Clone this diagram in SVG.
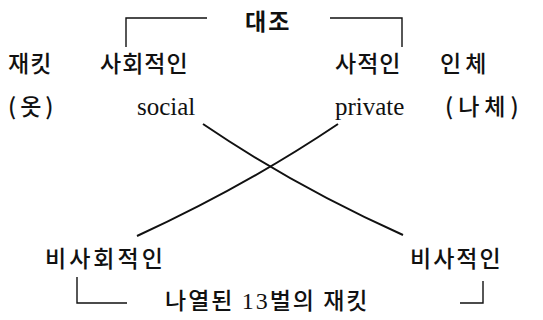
<svg xmlns="http://www.w3.org/2000/svg" width="543" height="320" viewBox="0 0 543 320">
<style>
.ko{font-family:"Noto Sans CJK KR","Noto Sans",sans-serif;font-size:23px;font-weight:500;fill:#111;}
.ko.b{font-weight:bold;}
.en{font-family:"Liberation Serif",serif;font-size:25px;font-weight:normal;fill:#111;}
.br{fill:none;stroke:#111;stroke-width:1.4;}
.cr{fill:none;stroke:#111;stroke-width:2;}
</style>
<rect width="543" height="320" fill="#fff"/>
<g id="contrast"><text class="ko b" x="245" y="30" letter-spacing="2">대조</text></g>
<g id="jacket"><text class="ko" x="8" y="72" letter-spacing="1">재킷</text><text class="ko" x="8" y="115" letter-spacing="4">(옷)</text></g>
<g id="social"><text class="ko" x="100" y="72" letter-spacing="1">사회적인</text><text class="en" x="137" y="115">social</text></g>
<g id="private"><text class="ko" x="335" y="72" letter-spacing="1">사적인</text><text class="en" x="335" y="115">private</text></g>
<g id="body"><text class="ko" x="440" y="72" letter-spacing="4">인체</text><text class="ko" x="445" y="115" letter-spacing="5">(나체)</text></g>
<g id="nonsocial"><text class="ko" x="45" y="267" letter-spacing="3">비사회적인</text></g>
<g id="nonprivate"><text class="ko" x="410" y="267" letter-spacing="2">비사적인</text></g>
<g id="listed"><text class="ko" x="165" y="309" letter-spacing="2">나열된 <tspan class="en" style="font-size:24px">13</tspan>벌의 재킷</text></g>
<g id="connectors">
<path class="br" d="M126,47 V18 H207"/>
<path class="br" d="M330,18 H402 V47"/>
<path class="br" d="M77,277 V303 H127"/>
<path class="br" d="M460,303 H483 V281"/>
<path class="cr" d="M203,124 Q294.3,186.1 403,235"/>
<path class="cr" d="M338,124 Q245.7,186.1 137,236"/>
</g>
</svg>
